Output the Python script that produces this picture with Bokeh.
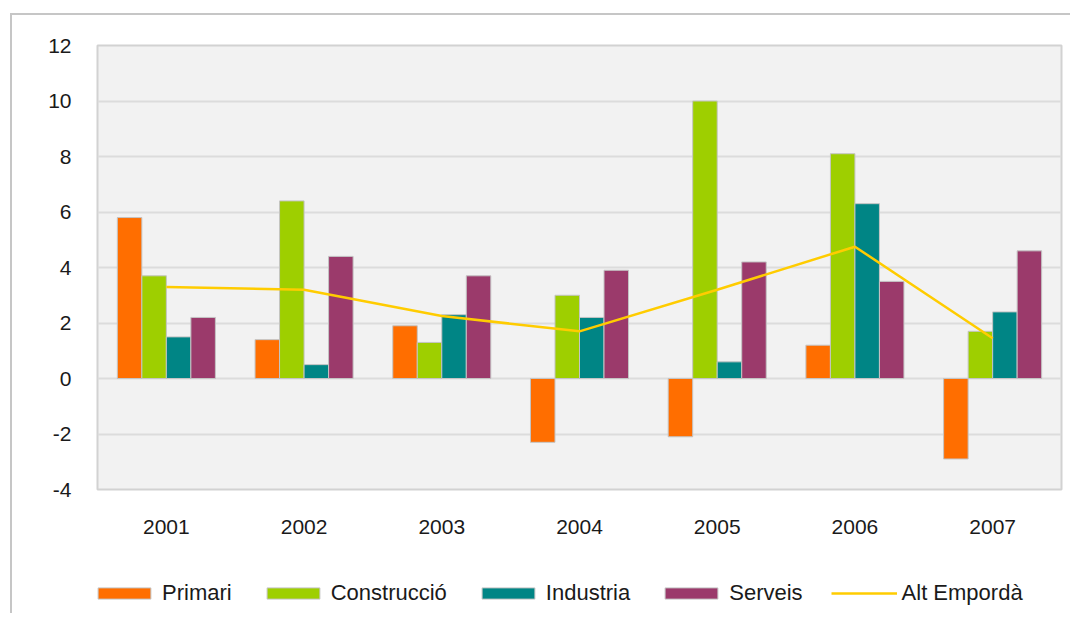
from bokeh.plotting import figure
from bokeh.layouts import column
from bokeh.models import FactorRange, Legend, LegendItem, Range1d, FixedTicker
from bokeh.transform import dodge
from bokeh.embed import file_html
from bokeh.resources import INLINE
from bokeh.models import ColumnDataSource

years = ["2001", "2002", "2003", "2004", "2005", "2006", "2007"]
primari = [5.8, 1.4, 1.9, -2.3, -2.1, 1.2, -2.9]
construccio = [3.7, 6.4, 1.3, 3.0, 10.0, 8.1, 1.7]
industria = [1.5, 0.5, 2.3, 2.2, 0.6, 6.3, 2.4]
serveis = [2.2, 4.4, 3.7, 3.9, 4.2, 3.5, 4.6]
alt_emporda = [3.3, 3.2, 2.25, 1.7, 3.2, 4.75, 1.45]
y_ticks = [-4, -2, 0, 2, 4, 6, 8, 10, 12]

series = [
    ("Primari", primari, "#ff6e00"),
    ("Construcció", construccio, "#9ecf00"),
    ("Industria", industria, "#008585"),
    ("Serveis", serveis, "#9b3a6b"),
]
line_name, line_color = "Alt Empordà", "#ffcc00"

src = ColumnDataSource(dict(years=years, primari=primari, construccio=construccio,
                            industria=industria, serveis=serveis, alt=alt_emporda))
cols = ["primari", "construccio", "industria", "serveis"]

FONT = "Liberation Sans"
W = 1058

p = figure(x_range=FactorRange(*years, range_padding=0), y_range=Range1d(-4, 12),
           width=W, height=534, output_backend="svg", toolbar_location=None,
           min_border_left=85, min_border_right=9, min_border_top=30, min_border_bottom=60)
p.background_fill_color = "#f2f2f2"
p.border_fill_color = "white"
p.outline_line_color = "#d2d2d2"
p.outline_line_width = 2

bw = 0.178
offsets = [-1.5 * bw, -0.5 * bw, 0.5 * bw, 1.5 * bw]
for (name, vals, color), col, off in zip(series, cols, offsets):
    p.vbar(x=dodge("years", off, range=p.x_range), top=col, bottom=0, width=bw,
           source=src, fill_color=color, line_color="#c4c4c4", line_width=1)
p.line(x="years", y="alt", source=src, line_color=line_color, line_width=2.5)

p.xgrid.grid_line_color = None
p.ygrid.grid_line_color = "#dcdcdc"
p.ygrid.grid_line_width = 2
p.yaxis.ticker = FixedTicker(ticks=y_ticks)
p.yaxis.major_label_overrides = {t: str(t) for t in y_ticks}

for ax in (p.xaxis[0], p.yaxis[0]):
    ax.axis_line_color = None
    ax.major_tick_line_color = None
    ax.minor_tick_line_color = None
    ax.major_tick_out = 0
    ax.major_tick_in = 0
    ax.major_label_text_font = FONT
    ax.major_label_text_font_size = "21px"
    ax.major_label_text_color = "#1a1a1a"
p.yaxis.major_label_standoff = 26
p.xaxis.major_label_standoff = 30

# legend strip below the chart (its frame is aligned with the chart's frame)
lg = figure(width=W, height=64, output_backend="svg", toolbar_location=None,
            x_range=Range1d(0, 1), y_range=Range1d(0, 1), x_axis_type=None, y_axis_type=None,
            min_border_left=85, min_border_right=9, min_border_top=0, min_border_bottom=0)
lg.outline_line_color = None
lg.background_fill_color = None
lg.border_fill_color = "white"
lg.grid.grid_line_color = None

nan = float("nan")
items = []
for name, vals, color in series:
    r = lg.vbar(x=[nan], top=[nan], width=0.1, fill_color=color,
                line_color="#c4c4c4", line_width=1)
    items.append(LegendItem(label=name, renderers=[r]))
rl = lg.line(x=[nan], y=[nan], line_color=line_color, line_width=2.5)
items.append(LegendItem(label=line_name, renderers=[rl]))

legend = Legend(items=items, orientation="horizontal", location=(-6, 7),
                glyph_width=66, glyph_height=14, label_standoff=5, spacing=28,
                padding=0, margin=0, border_line_color=None, background_fill_alpha=0,
                label_text_font=FONT, label_text_font_size="22px", label_text_color="#1a1a1a")
lg.add_layout(legend, "center")

layout = column(p, lg, spacing=0)
layout.margin = (13, 0, 0, 10)
layout.styles = {"border-top": "2px solid #c6c6c6", "border-left": "2px solid #c6c6c6"}

open("out.html", "w").write(file_html(layout, INLINE))
